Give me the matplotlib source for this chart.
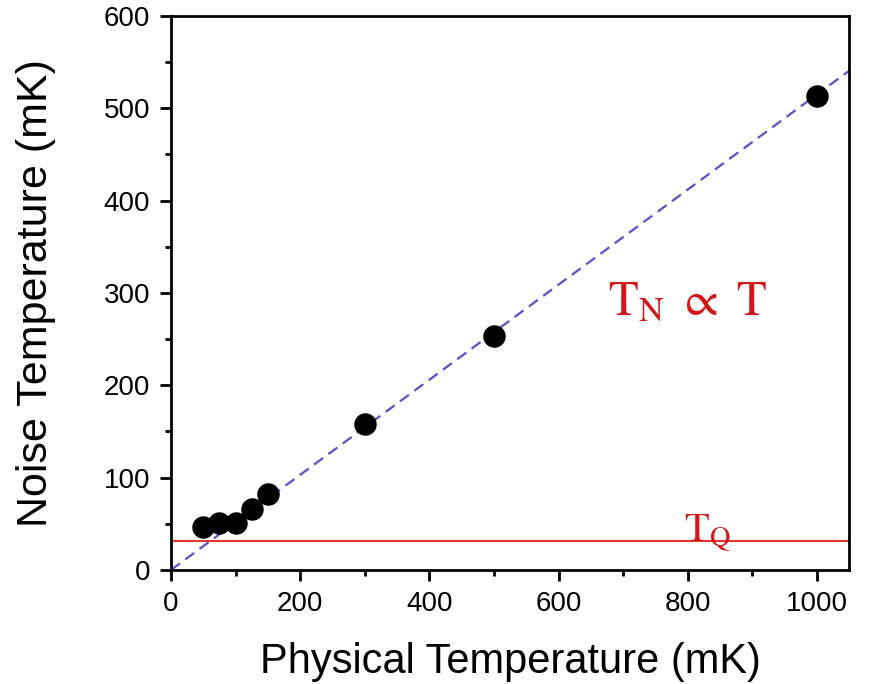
import numpy as np
import matplotlib
matplotlib.use("Agg")
import matplotlib.pyplot as plt
from matplotlib.ticker import MultipleLocator

plt.rcParams['font.family'] = ['Liberation Sans', 'DejaVu Sans']
plt.rcParams['mathtext.fontset'] = 'stix'

# measured noise temperature vs physical temperature (mK)
T_phys = [50, 75, 100, 125, 150, 300, 500, 1000]
T_noise = [47, 51, 51, 66, 82, 158, 253, 513]
slope = 0.515   # T_N = slope * T
T_Q = 31        # quantum limit (mK)

fig = plt.figure(figsize=(8.72, 6.84), dpi=100)
ax = fig.add_axes([0.196, 0.1667, 0.778, 0.81])

xx = np.array([0, 1050])
ax.plot(xx, slope * xx, ls=(0, (5, 3)), color='#5a4fd0', lw=1.6, zorder=2)
ax.axhline(T_Q, color='#e03535', lw=1.5, zorder=1)
ax.scatter(T_phys, T_noise, s=230, color='black', zorder=3)

ax.text(800, 290, r'$\mathrm{T_N}\ \propto\ \mathrm{T}$', color='#d01818',
        fontsize=35, ha='center', va='center')
ax.text(830, 40, r'$\mathrm{T_Q}$', color='#d01818', fontsize=29,
        ha='center', va='center')

ax.set_xlim(0, 1050)
ax.set_ylim(0, 600)
ax.xaxis.set_major_locator(MultipleLocator(200))
ax.xaxis.set_minor_locator(MultipleLocator(100))
ax.yaxis.set_major_locator(MultipleLocator(100))
ax.yaxis.set_minor_locator(MultipleLocator(50))
ax.tick_params(which='major', length=8, width=2, labelsize=20, direction='out', pad=7)
ax.tick_params(which='minor', length=4, width=2, direction='out')
for s in ax.spines.values():
    s.set_linewidth(2)

ax.set_xlabel('Physical Temperature (mK)', fontsize=30, labelpad=18)
ax.set_ylabel('Noise Temperature (mK)', fontsize=31, labelpad=34)

fig.savefig('out.png', dpi=100)
